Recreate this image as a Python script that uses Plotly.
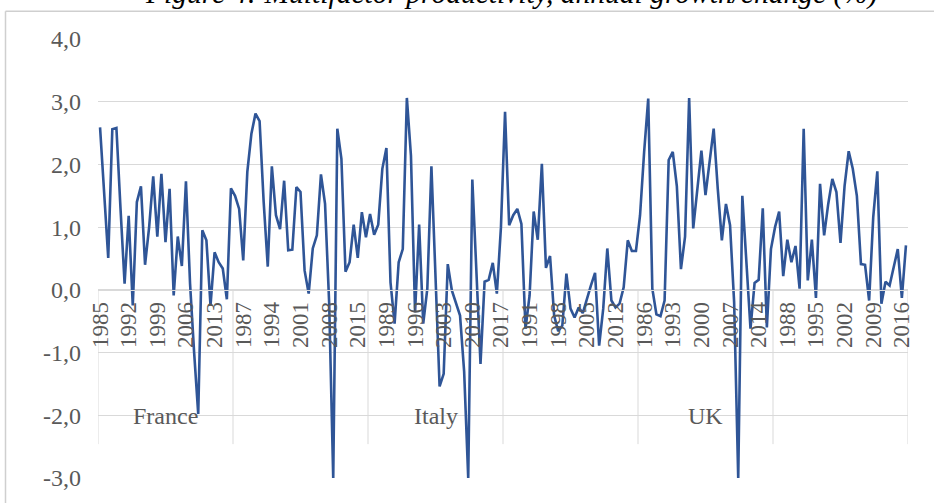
import plotly.graph_objects as go

# ---------------- data ----------------
years = list(range(1985, 2018))            # categories inside each country group
group_names = ["France", "", "Italy", "", "UK", ""]   # group labels as shown

france = [2.59, 1.58, 0.51, 2.56, 2.58, 1.30, 0.10, 1.18, -0.25, 1.40, 1.65,
          0.40, 1.00, 1.81, 0.85, 1.85, 0.76, 1.61, -0.09, 0.85, 0.38, 1.73,
          0.10, -1.00, -1.98, 0.95, 0.79, -0.25, 0.60, 0.44, 0.34, -0.15, 1.62]
country2 = [1.50, 1.29, 0.47, 1.88, 2.49, 2.81, 2.69, 1.40, 0.37, 1.97, 1.19,
            0.97, 1.74, 0.63, 0.64, 1.64, 1.56, 0.31, -0.06, 0.66, 0.87, 1.84,
            1.37, -0.20, -3.00, 2.57, 2.09, 0.29, 0.44, 1.04, 0.51, 1.24, 0.84]
italy = [1.21, 0.88, 1.04, 1.93, 2.26, 0.12, -0.54, 0.44, 0.65, 3.06, 2.14,
         -0.36, 1.04, -0.54, 0.02, 1.97, 0.20, -1.54, -1.34, 0.41, -0.01, -0.20,
         -0.41, -1.30, -3.00, 1.76, 0.35, -1.18, 0.13, 0.16, 0.43, -0.06, 1.00]
country4 = [2.84, 1.03, 1.19, 1.29, 1.05, -0.62, -0.09, 1.25, 0.80, 2.01, 0.35,
            0.54, -0.41, -0.66, -0.57, 0.26, -0.30, -0.44, -0.28, -0.37, -0.14, 0.07,
            0.27, -0.89, -0.30, 0.66, -0.17, -0.28, -0.22, 0.04, 0.79, 0.62, 0.62]
uk = [1.19, 2.20, 3.05, 0.02, -0.39, -0.42, -0.17, 2.07, 2.20, 1.65, 0.33,
      0.85, 3.06, 0.98, 1.60, 2.22, 1.51, 2.05, 2.57, 1.61, 0.79, 1.37,
      1.03, -0.20, -3.00, 1.50, 0.34, -0.62, 0.11, 0.16, 1.30, -0.60, 0.65]
country6 = [1.00, 1.25, 0.22, 0.80, 0.44, 0.70, 0.02, 2.57, 0.15, 0.80, -0.13,
            1.69, 0.87, 1.37, 1.77, 1.56, 0.75, 1.66, 2.21, 1.93, 1.50, 0.41,
            0.40, -0.17, 1.16, 1.89, -0.22, 0.13, 0.07, 0.36, 0.65, -0.13, 0.71]

y_tick_vals = [-3, -2, -1, 0, 1, 2, 3, 4]
y_tick_text = ["-3,0", "-2,0", "-1,0", "0,0", "1,0", "2,0", "3,0", "4,0"]
label_every = 7
title_text = "Figure 4: Multifactor productivity, annual growth/change (%)"

# ---------------- build ----------------
series = [france, country2, italy, country4, uk, country6]
n = len(years)
xs, ys, cat_years = [], [], []
for g, vals in enumerate(series):
    for k, v in enumerate(vals):
        xs.append(g * n + k)
        ys.append(v)
        cat_years.append(years[k])
n_total = len(series) * n
tickvals = list(range(0, n_total, label_every))
ticktext = [str(cat_years[i]) for i in tickvals]

W, H = 934, 503
ML, MR, MT, MB = 98, 26, 39, 23
PW, PH = W - ML - MR, H - MT - MB
def px_x(p):
    return (p - ML) / PW
def px_y(p):
    return 1 - (p - MT) / PH

YMIN, YMAX = -3, 4
zero_paper = (0 - YMIN) / (YMAX - YMIN)

GRID = "#D9D9D9"
TXT = "#595959"
FONT = "Liberation Serif, Times New Roman, serif"

fig = go.Figure()
fig.add_trace(go.Scatter(x=xs, y=ys, mode="lines",
                         line=dict(color="#2F5597", width=2.6),
                         hoverinfo="skip", showlegend=False))

shapes = []
# chart-area border (Excel style)
shapes.append(dict(type="line", xref="paper", yref="paper",
                   x0=px_x(5.5), x1=px_x(940), y0=px_y(11), y1=px_y(11),
                   line=dict(color="#CFCFCF", width=1.5), layer="above"))
shapes.append(dict(type="line", xref="paper", yref="paper",
                   x0=px_x(5.5), x1=px_x(5.5), y0=px_y(11), y1=px_y(510),
                   line=dict(color="#CFCFCF", width=1.5), layer="above"))
# group dividers of the multi-level category axis
for g in range(len(series) + 1):
    shapes.append(dict(type="line", xref="x", yref="paper",
                       x0=g * n - 0.5, x1=g * n - 0.5,
                       y0=zero_paper, y1=px_y(446),
                       line=dict(color=GRID, width=1), layer="below"))

annotations = []
for g, name in enumerate(group_names):
    if name:
        annotations.append(dict(x=g * n + (n - 1) / 2, y=px_y(418), xref="x", yref="paper",
                                text=name, showarrow=False,
                                font=dict(family=FONT, size=24, color=TXT),
                                xanchor="center", yanchor="middle"))
annotations.append(dict(x=px_x(512), y=px_y(-7), xref="paper", yref="paper",
                        text="<i>" + title_text + "</i>", showarrow=False,
                        font=dict(family=FONT, size=29.5, color="#000000"),
                        xanchor="center", yanchor="middle"))

fig.update_layout(
    width=W, height=H,
    margin=dict(l=ML, r=MR, t=MT, b=MB, pad=0),
    paper_bgcolor="white", plot_bgcolor="white",
    shapes=shapes, annotations=annotations,
    xaxis=dict(range=[-0.5, n_total - 0.5], anchor="free", position=zero_paper,
               showgrid=False, zeroline=False, showline=True,
               linecolor=GRID, linewidth=1,
               tickmode="array", tickvals=tickvals, ticktext=ticktext,
               tickangle=-90, ticks="outside", ticklen=2, tickcolor="rgba(0,0,0,0)",
               tickfont=dict(family=FONT, size=23, color=TXT)),
    yaxis=dict(range=[YMIN, YMAX], showgrid=True, gridcolor=GRID, gridwidth=1,
               zeroline=False, showline=False,
               tickmode="array", tickvals=y_tick_vals, ticktext=y_tick_text,
               ticks="", ticklabelstandoff=16,
               tickfont=dict(family=FONT, size=24, color=TXT)),
)

fig.write_html("out.html", config={"displayModeBar": False},
               post_script="document.body.style.margin='0px';document.body.style.overflow='hidden';")
